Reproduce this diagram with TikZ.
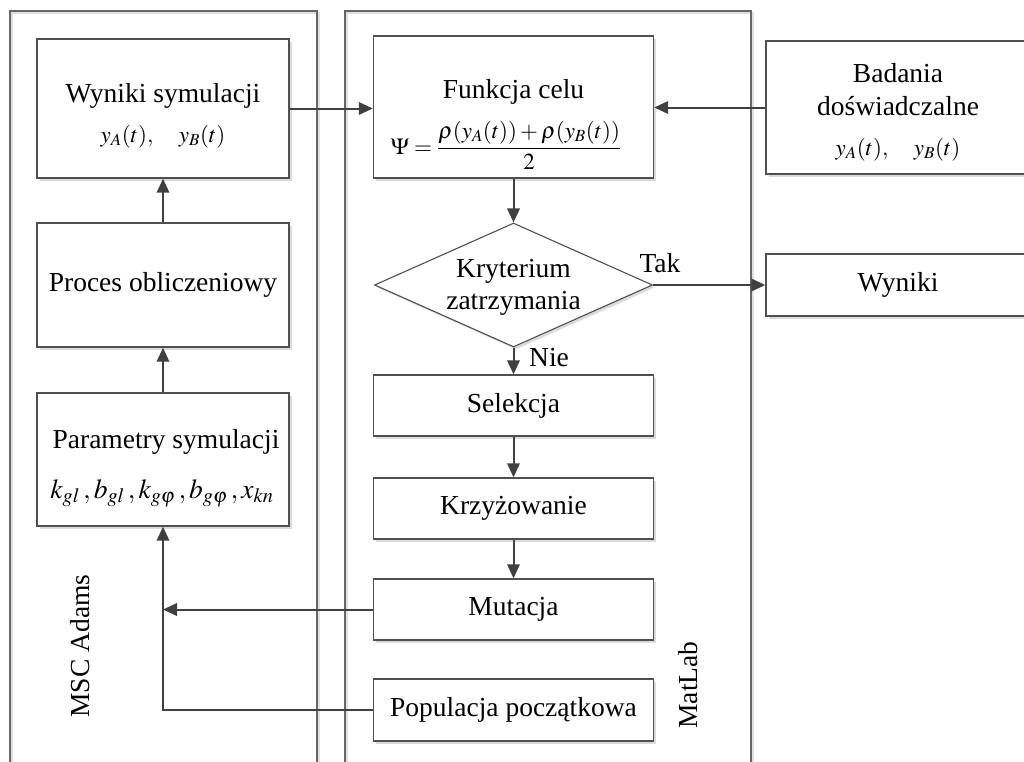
\documentclass[tikz,border=0pt]{standalone}
\usepackage{mathptmx}
\usepackage{fontspec}
\setmainfont{Liberation Serif}
\usetikzlibrary{shapes.geometric,arrows.meta,shadows}
\definecolor{boxline}{HTML}{505050}
\definecolor{arrowc}{HTML}{404040}
\definecolor{panelc}{HTML}{666666}
\newcommand\tsz{\fontsize{27.5}{32}\selectfont}
\newcommand\msz{\fontsize{23}{27}\selectfont}
\newcommand\bsz{\fontsize{27.5}{32}\selectfont}
\tikzset{
  boxshadow/.style={drop shadow={shadow xshift=2.5pt, shadow yshift=-2.5pt, fill=black!14, opacity=1}},
  box/.style={draw=boxline, line width=1.4pt, fill=white, rectangle, inner sep=0pt,
    font=\tsz, text=black, boxshadow},
  decision/.style={draw=boxline, line width=1.1pt, fill=white, diamond, inner sep=0pt, boxshadow},
  txt/.style={font=\tsz, inner sep=0pt, text=black},
  mth/.style={font=\msz, inner sep=0pt, text=black},
  bigmth/.style={font=\bsz, inner sep=0pt, text=black},
  arr/.style={draw=arrowc, line width=2pt, -{Triangle[length=14pt,width=12.5pt]}},
  panel/.style={draw=panelc, line width=1.2pt},
  panelshadow/.style={draw=black!12, line width=1.2pt}
}
\begin{document}
\begin{tikzpicture}[x=1pt,y=-1pt]
\useasboundingbox (0,0) rectangle (1024,761);
% panels
\draw[panelshadow] (12,790) -- (12,13) -- (319,13) -- (319,790);
\draw[panelshadow] (347,790) -- (347,13) -- (753,13) -- (753,790);
\draw[panel] (10,790) -- (10,11) -- (317,11) -- (317,790);
\draw[panel] (345,790) -- (345,11) -- (751,11) -- (751,790);
\node[txt, rotate=90] (msc) at (80,646) {MSC Adams};
\node[txt, rotate=90] (mat) at (688,685) {MatLab};

% left column
\node[box, minimum width=252pt, minimum height=139pt] (ws) at (163,108.5) {};
\node[txt, anchor=base] (wst) at (163,102) {Wyniki symulacji};
\node[mth, anchor=base] (wsm) at (163,142) {$y_A(t),\quad y_B(t)$};

\node[box, minimum width=252pt, minimum height=124pt] (po) at (163,285) {Proces obliczeniowy};

\node[box, minimum width=252pt, minimum height=133pt] (ps) at (163,459.5) {};
\node[txt, anchor=base] (pst) at (166,448) {Parametry symulacji};
\node[bigmth, anchor=base] (psm) at (162,498) {$k_{gl}\,,b_{gl}\,,k_{g\varphi}\,,b_{g\varphi}\,,x_{kn}$};

% middle column
\node[box, minimum width=280pt, minimum height=142pt] (fc) at (513.5,107) {};
\node[txt, anchor=base] (fct) at (513.5,98) {Funkcja celu};
\node[mth, anchor=base] (fcm) at (506,154) {$\Psi = \displaystyle\frac{\rho(y_A(t)) + \rho(y_B(t))}{2}$};

\node[decision, minimum width=278pt, minimum height=124pt] (dm) at (513.5,285) {};
\node[txt, anchor=base] (dm1) at (513.5,277) {Kryterium};
\node[txt, anchor=base] (dm2) at (513.5,309) {zatrzymania};

\node[box, minimum width=280pt, minimum height=61pt] (se) at (513.5,405.5) {Selekcja};
\node[box, minimum width=280pt, minimum height=61pt] (kr) at (513.5,508.5) {Krzyżowanie};
\node[box, minimum width=280pt, minimum height=61pt] (mu) at (513.5,609.5) {Mutacja};
\node[box, minimum width=280pt, minimum height=62pt] (pp) at (513.5,710) {Populacja początkowa};

% right column
\node[box, minimum width=264pt, minimum height=133pt] (bd) at (898,107.5) {};
\node[txt, anchor=base] (bd1) at (898,82) {Badania};
\node[txt, anchor=base] (bd2) at (898,115) {doświadczalne};
\node[mth, anchor=base] (bdm) at (898,155) {$y_A(t),\quad y_B(t)$};

\node[box, minimum width=264pt, minimum height=62pt] (wy) at (898,285) {Wyniki};

% labels
\node[txt, anchor=base] (tak) at (660,272) {Tak};
\node[txt, anchor=base] (nie) at (549,366) {Nie};

% connectors
\draw[arr] (ws.east) -- (ws.east -| fc.west);
\draw[arr] (bd.west) -- (bd.west -| fc.east);
\draw[arr] (fc.south) -- (dm.north);
\draw[arr] (dm.east) -- (wy.west);
\draw[arr] (dm.south) -- (se.north);
\draw[arr] (se.south) -- (kr.north);
\draw[arr] (kr.south) -- (mu.north);
\draw[arr] (mu.west) -- (mu.west -| ps.south);
\draw[arr] (pp.west) -- (pp.west -| ps.south) -- (ps.south);
\draw[arr] (ps.north) -- (po.south);
\draw[arr] (po.north) -- (ws.south);
\end{tikzpicture}
\end{document}
